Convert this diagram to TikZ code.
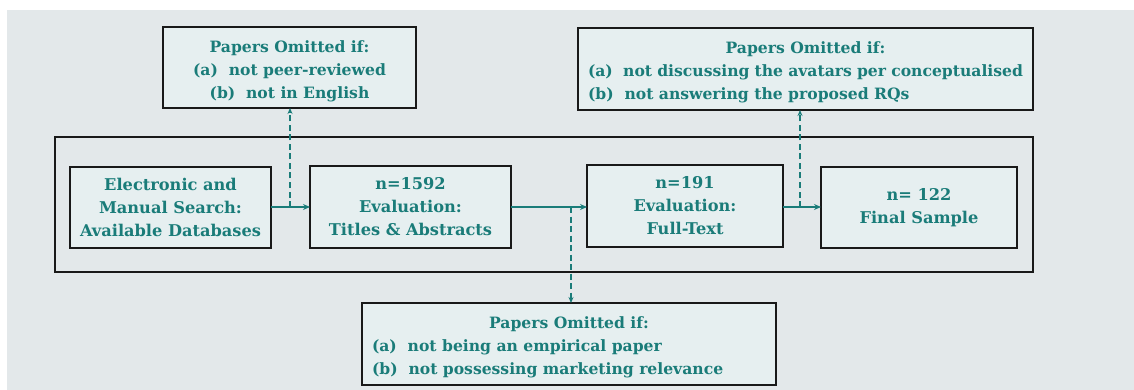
\documentclass[tikz,border=0pt]{standalone}
\usepackage{fontspec}
\setmainfont{DejaVu Serif}
\usetikzlibrary{arrows.meta}
\definecolor{teal1}{RGB}{26,124,121}
\definecolor{bgc}{RGB}{227,232,234}
\definecolor{boxc}{RGB}{230,239,240}
\definecolor{edge}{RGB}{25,25,25}
\begin{document}
\begin{tikzpicture}[x=1pt,y=-1pt,
  every node/.style={inner sep=0pt, outer sep=0pt},
  stepbox/.style={draw=edge, line width=1.8pt, fill=boxc, text=teal1,
     font=\fontsize{16.2}{23}\selectfont\bfseries, align=center},
  omitbox/.style={stepbox, font=\fontsize{15.6}{23}\selectfont\bfseries},
  flow/.style={draw=teal1, line width=1.6pt, -{Stealth[length=7pt,width=6pt]}},
  omit/.style={draw=teal1, line width=1.6pt, dashed, dash pattern=on 6pt off 3.5pt, -{Stealth[length=6pt,width=5pt]}}
]
\useasboundingbox (0,0) rectangle (1134,390);
\fill[bgc] (7,10) rectangle (1134,390);
\node[draw=edge, line width=1.8pt, minimum width=978pt, minimum height=135pt] (frame) at (544,204.5) {};

\node[stepbox, minimum width=201pt, minimum height=81pt] (b1) at (170.5,207.5)
  {Electronic and\\Manual Search:\\Available Databases};
\node[stepbox, minimum width=201pt, minimum height=82pt] (b2) at (410.5,207)
  {n=1592\\Evaluation:\\Titles \& Abstracts};
\node[stepbox, minimum width=196pt, minimum height=82pt] (b3) at (685,206)
  {n=191\\Evaluation:\\Full-Text};
\node[stepbox, minimum width=196pt, minimum height=81pt] (b4) at (919,207.5)
  {n= 122\\Final Sample};

\node[omitbox, minimum width=253pt, minimum height=81pt] (o1) at (289.5,67.5)
  {\raisebox{-3pt}[\height][\depth]{\begin{tabular}{@{}c@{}}Papers Omitted if:\\
   (a)\ \ not peer-reviewed\\(b)\ \ not in English\end{tabular}}};
\node[omitbox, minimum width=455pt, minimum height=82pt] (o2) at (805.5,69)
  {\raisebox{-3pt}[\height][\depth]{\begin{tabular}{@{}p{435pt}@{}}\makebox[435pt]{Papers Omitted if:}\\
   (a)\ \ not discussing the avatars per conceptualised\\
   (b)\ \ not answering the proposed RQs\end{tabular}}};
\node[omitbox, minimum width=414pt, minimum height=82pt] (o3) at (569,344)
  {\raisebox{-2.5pt}[\height][\depth]{\begin{tabular}{@{}p{394pt}@{}}\makebox[394pt]{Papers Omitted if:}\\
   (a)\ \ not being an empirical paper\\
   (b)\ \ not possessing marketing relevance\end{tabular}}};

\coordinate (j1) at (290,207);
\coordinate (j2) at (571,207);
\coordinate (j3) at (800,207);

\draw[flow] (b1.east |- j1) -- (b2.west |- j1);
\draw[flow] (b2.east |- j2) -- (b3.west |- j2);
\draw[flow] (b3.east |- j3) -- (b4.west |- j3);
\draw[omit] (j1) -- (j1 |- o1.south);
\draw[omit] (j2) -- (j2 |- o3.north);
\draw[omit] (j3) -- (j3 |- o2.south);
\end{tikzpicture}
\end{document}
